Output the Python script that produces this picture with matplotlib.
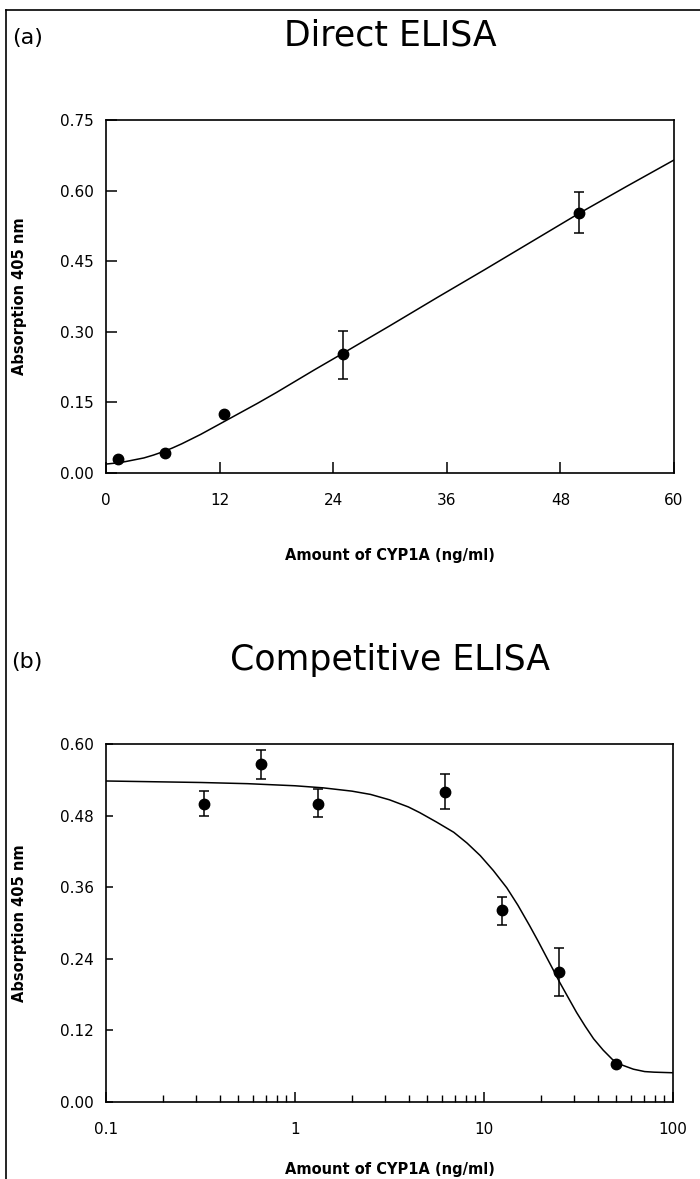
import matplotlib
matplotlib.use("Agg")
import matplotlib.pyplot as plt
from matplotlib.lines import Line2D
from matplotlib.ticker import FixedLocator, NullFormatter, LogLocator, FixedFormatter

# ---------------- data ----------------
# (a) Direct ELISA
direct_x = [1.25, 6.25, 12.5, 25, 50]
direct_y = [0.029, 0.042, 0.125, 0.252, 0.552]
direct_upper = [None, None, None, 0.302, 0.596]
direct_lower = [None, None, None, 0.200, 0.509]
direct_fit_x = [0, 1, 2, 3, 4, 5, 6, 7, 8, 9, 10, 12, 14, 16, 18, 20, 22, 25, 30, 35, 40, 45, 50, 55, 60]
direct_fit_y = [0.019, 0.021, 0.024, 0.028, 0.032, 0.038, 0.045, 0.053, 0.062, 0.072,
                0.082, 0.104, 0.126, 0.148, 0.171, 0.195, 0.219, 0.254, 0.313, 0.373,
                0.432, 0.492, 0.552, 0.609, 0.665]
direct_xticks = [0, 12, 24, 36, 48, 60]
direct_yticks = [0.00, 0.15, 0.30, 0.45, 0.60, 0.75]

# (b) Competitive ELISA
comp_x = [0.33, 0.66, 1.32, 6.25, 12.5, 25, 50]
comp_y = [0.500, 0.566, 0.500, 0.520, 0.321, 0.218, 0.064]
comp_upper = [0.521, 0.590, 0.525, 0.549, 0.344, 0.258, None]
comp_lower = [0.479, 0.542, 0.477, 0.491, 0.297, 0.178, None]
comp_fit_x = [0.1, 0.316, 0.562, 1, 1.41, 2.0, 2.51, 3.16, 3.98, 4.57, 5.62, 6.92,
              8.13, 9.55, 11.2, 13.2, 15.1, 17.4, 19.3, 21.4, 23.2, 25.1, 27.9,
              30.9, 34.3, 38.0, 42.7, 47.9, 53.7, 61.7, 70.8, 79.4, 100]
comp_fit_y = [0.538, 0.5355, 0.5335, 0.530, 0.5265, 0.521, 0.5155, 0.5065, 0.4945,
              0.485, 0.469, 0.452, 0.434, 0.413, 0.388, 0.359, 0.330, 0.296, 0.270,
              0.243, 0.222, 0.201, 0.175, 0.150, 0.127, 0.106, 0.087, 0.071, 0.062,
              0.055, 0.051, 0.050, 0.049]
comp_xticks = [0.1, 1, 10, 100]
comp_xticklabels = ["0.1", "1", "10", "100"]
comp_yticks = [0.00, 0.12, 0.24, 0.36, 0.48, 0.60]

titles = ["Direct ELISA", "Competitive ELISA"]
panel_labels = ["(a)", "(b)"]
xlabel = "Amount of CYP1A (ng/ml)"
ylabel = "Absorption 405 nm"

# ---------------- figure ----------------
W, H = 700, 1179
fig = plt.figure(figsize=(W / 100, H / 100), dpi=100)
plt.rcParams['font.family'] = ['DejaVu Sans']

def fx(px):
    return px / W

def fy(py):
    return 1 - py / H

ax1 = fig.add_axes([fx(106), fy(473), fx(674) - fx(106), fy(120) - fy(473)])
ax2 = fig.add_axes([fx(106), fy(1102), fx(673) - fx(106), fy(744) - fy(1102)])


def split_err(xs, ys, up, lo):
    ex, ey, el, eu = [], [], [], []
    for x, y, u, l in zip(xs, ys, up, lo):
        if u is not None:
            ex.append(x); ey.append(y); eu.append(u - y); el.append(y - l)
    return ex, ey, [el, eu]


for ax in (ax1, ax2):
    for s in ax.spines.values():
        s.set_linewidth(1.2)
        s.set_color('black')

# panel a
ax1.plot(direct_fit_x, direct_fit_y, color='black', lw=1.1, zorder=2)
ex, ey, err = split_err(direct_x, direct_y, direct_upper, direct_lower)
ax1.errorbar(ex, ey, yerr=err, fmt='none', ecolor='black', elinewidth=1.1,
             capsize=3.6, capthick=1.1, zorder=3)
ax1.plot(direct_x, direct_y, 'o', color='black', ms=7.5, zorder=4)
ax1.set_xlim(0, 60)
ax1.set_ylim(0, 0.75)
ax1.set_xticks(direct_xticks)
ax1.set_xticklabels([str(t) for t in direct_xticks])
ax1.set_yticks(direct_yticks)
ax1.set_yticklabels([f"{t:.2f}" for t in direct_yticks])
ax1.tick_params(axis='x', direction='in', length=8, width=1.1, pad=14.5, labelsize=11)
ax1.tick_params(axis='y', direction='in', length=8, width=1.1, pad=9, labelsize=11)

# panel b
ax2.set_xscale('log')
ax2.plot(comp_fit_x, comp_fit_y, color='black', lw=1.1, zorder=2)
ex, ey, err = split_err(comp_x, comp_y, comp_upper, comp_lower)
ax2.errorbar(ex, ey, yerr=err, fmt='none', ecolor='black', elinewidth=1.1,
             capsize=3.6, capthick=1.1, zorder=3)
ax2.plot(comp_x, comp_y, 'o', color='black', ms=7.5, zorder=4)
ax2.set_xlim(0.1, 100)
ax2.set_ylim(0, 0.60)
ax2.xaxis.set_major_locator(FixedLocator(comp_xticks))
ax2.xaxis.set_major_formatter(FixedFormatter(comp_xticklabels))
ax2.xaxis.set_minor_locator(LogLocator(base=10, subs=range(2, 10), numticks=20))
ax2.xaxis.set_minor_formatter(NullFormatter())
ax2.set_yticks(comp_yticks)
ax2.set_yticklabels([f"{t:.2f}" for t in comp_yticks])
ax2.tick_params(axis='x', which='major', direction='in', length=7.5, width=1.1, pad=14.5, labelsize=11)
ax2.tick_params(axis='x', which='minor', direction='in', length=5, width=1.0)
ax2.tick_params(axis='y', direction='in', length=5, width=1.1, pad=9, labelsize=11)

ax1.set_xlabel(xlabel, fontsize=10.5, fontweight='bold', labelpad=29)
ax2.set_xlabel(xlabel, fontsize=10.5, fontweight='bold', labelpad=18)
for ax in (ax1, ax2):
    ax.set_ylabel(ylabel, fontsize=10.5, fontweight='bold')

# place y labels at fixed pixel x (anchor is the label's right side)
ax1.yaxis.set_label_coords(-(106 - 27) / (674 - 106), 0.5)
ax2.yaxis.set_label_coords(-(106 - 27) / (673 - 106), 0.5)

# titles and panel letters
fig.text(fx(390), fy(36), titles[0], ha='center', va='center', fontsize=25)
fig.text(fx(390), fy(660), titles[1], ha='center', va='center', fontsize=25)
fig.text(fx(12), fy(38), panel_labels[0], ha='left', va='center', fontsize=16)
fig.text(fx(11), fy(662), panel_labels[1], ha='left', va='center', fontsize=16)

# frame lines (left and top)
fig.add_artist(Line2D([fx(6), fx(6)], [0, fy(10)], transform=fig.transFigure,
                      color='black', lw=1.2))
fig.add_artist(Line2D([fx(6), 1], [fy(10), fy(10)], transform=fig.transFigure,
                      color='black', lw=1.2))

fig.savefig("out.png", dpi=100)
